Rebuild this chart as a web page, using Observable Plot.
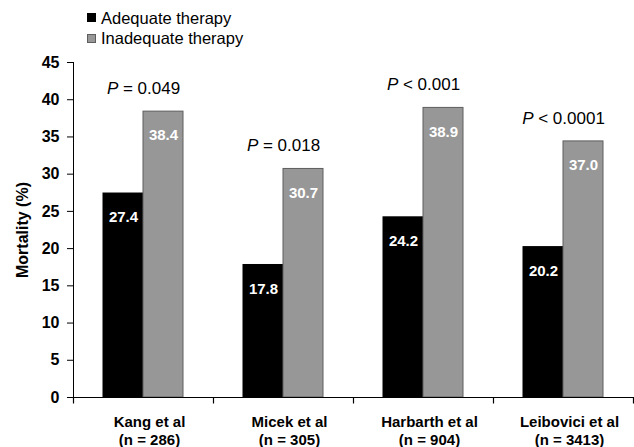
<!DOCTYPE html>
<html><head><meta charset="utf-8">
<script src="https://cdn.jsdelivr.net/npm/d3@7"></script>
<script src="https://cdn.jsdelivr.net/npm/@observablehq/plot@0.6"></script>
<style>
body{margin:0;background:#fff;font-family:"Liberation Sans",Arial,sans-serif;}
#wrap{width:634px;height:447px;position:relative;overflow:hidden;background:#fff}
#legend{position:relative;height:50px}
.sw{position:absolute;left:87px;width:9px;height:9px;box-sizing:border-box;border:1px solid}
.lt{position:absolute;left:101px;font-size:16.5px;line-height:20px;white-space:nowrap;color:#000}
#chart svg{display:block}
</style></head>
<body><div id="wrap"><div id="legend"></div><div id="chart"></div></div>
<script>
const studies = ["Kang et al", "Micek et al", "Harbarth et al", "Leibovici et al"];
const sampleSizes = ["(n = 286)", "(n = 305)", "(n = 904)", "(n = 3413)"];
const groups = ["Adequate therapy", "Inadequate therapy"];
const adequate = [27.4, 17.8, 24.2, 20.2];
const inadequate = [38.4, 30.7, 38.9, 34.4];
const adequateLabels = ["27.4", "17.8", "24.2", "20.2"];
const inadequateLabels = ["38.4", "30.7", "38.9", "37.0"];
const pValues = ["P = 0.049", "P = 0.018", "P < 0.001", "P < 0.0001"];
const yTicks = [0, 5, 10, 15, 20, 25, 30, 35, 40, 45];
const yLabel = "Mortality (%)";
const groupFill = ["#000000", "#979797"];
const groupStroke = ["#000000", "#5e5e5e"];

// legend
const legend = document.getElementById("legend");
groups.forEach((g, i) => {
  const sw = document.createElement("div");
  sw.className = "sw";
  sw.style.top = (13 + i * 20.7) + "px";
  sw.style.background = groupFill[i];
  sw.style.borderColor = groupStroke[i];
  legend.appendChild(sw);
  const t = document.createElement("div");
  t.className = "lt";
  t.style.top = (7.6 + i * 20) + "px";
  t.textContent = g;
  legend.appendChild(t);
});

const rows = [];
studies.forEach((s, i) => {
  rows.push({study: s, group: groups[0], value: adequate[i], label: adequateLabels[i], gi: 0});
  rows.push({study: s, group: groups[1], value: inadequate[i], label: inadequateLabels[i], gi: 1});
});
const pRows = studies.map((s, i) => ({study: s, top: Math.max(adequate[i], inadequate[i]), p: pValues[i]}));
const fxLabel = new Map(studies.map((s, i) => [s, s + "\n" + sampleSizes[i]]));

const tickSymbol = {draw(ctx) { ctx.moveTo(0, 0); ctx.lineTo(0, 6); }};

const chart = Plot.plot({
  width: 634,
  height: 397,
  marginLeft: 72,
  marginRight: 0,
  marginTop: 12,
  marginBottom: 50,
  style: {fontFamily: "'Liberation Sans', Arial, sans-serif", background: "#fff", color: "#000", overflow: "visible"},
  fx: {domain: studies, paddingInner: 0, paddingOuter: 0},
  x: {domain: groups, paddingInner: 0, paddingOuter: 0.744, axis: null},
  y: {domain: [0, 45]},
  marks: [
    Plot.barY(rows, {fx: "study", x: "group", y: "value", fill: d => groupFill[d.gi], stroke: d => groupStroke[d.gi], strokeWidth: 1}),
    Plot.text(rows, {fx: "study", x: "group", y: "value", text: "label", fill: "white", fontWeight: "bold", fontSize: 15, dy: 24}),
    Plot.text(pRows, {fx: "study", y: "top", text: "p", fontSize: 17, dy: -23, fill: "black", className: "pval"}),
    Plot.frame({anchor: "bottom", facet: "super", stroke: "black"}),
    Plot.frame({anchor: "left", facet: "super", stroke: "black"}),
    Plot.dot(studies, {fx: d => d, frameAnchor: "bottom-left", symbol: tickSymbol, r: 3, stroke: "black", fill: "none", strokeWidth: 1.2}),
    Plot.dot([studies[studies.length - 1]], {fx: d => d, frameAnchor: "bottom-right", symbol: tickSymbol, r: 3, stroke: "black", fill: "none", strokeWidth: 1.2}),
    Plot.axisY({ticks: yTicks, tickSize: 6, tickPadding: 8, fontSize: 16, fontWeight: "bold", label: yLabel, labelAnchor: "center", labelArrow: "none", labelOffset: 57}),
    Plot.axisFx({anchor: "bottom", tickSize: 0, tickPadding: 17, tickFormat: d => fxLabel.get(d), fontSize: 15, fontWeight: "bold", lineHeight: 1.18, label: null, dx: 6})
  ]
});
document.getElementById("chart").appendChild(chart);

// italic P in p-value labels
chart.querySelectorAll("g.pval text").forEach(t => {
  const s = t.textContent;
  t.textContent = "";
  const a = document.createElementNS("http://www.w3.org/2000/svg", "tspan");
  a.setAttribute("font-style", "italic");
  a.textContent = s.slice(0, 1);
  const b = document.createElementNS("http://www.w3.org/2000/svg", "tspan");
  b.textContent = s.slice(1);
  t.appendChild(a); t.appendChild(b);
});
</script>
</body></html>
